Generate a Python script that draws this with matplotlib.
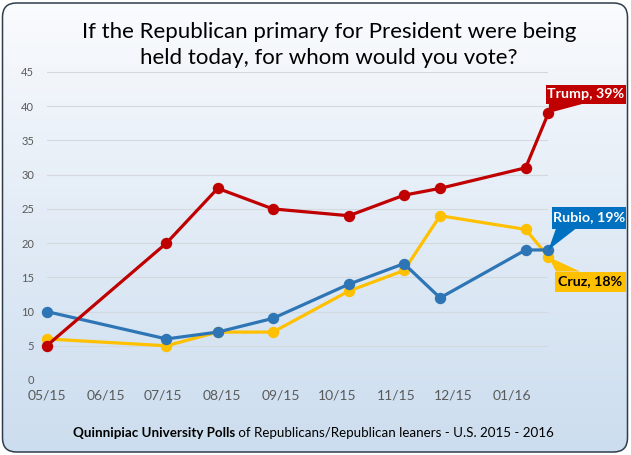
import numpy as np
import pandas as pd
import matplotlib
matplotlib.use("Agg")
import matplotlib.pyplot as plt
import matplotlib.dates as mdates
from matplotlib.patches import FancyBboxPatch, Polygon, Rectangle
from matplotlib.transforms import IdentityTransform

# ---- data ----
poll_dates = ["2015-05-28", "2015-07-30", "2015-08-26", "2015-09-24", "2015-11-03",
              "2015-12-02", "2015-12-21", "2016-02-04", "2016-02-16"]
trump = [5, 20, 28, 25, 24, 27, 28, 31, 39]
rubio = [10, 6, 7, 9, 14, 17, 12, 19, 19]
cruz = [6, 5, 7, 7, 13, 16, 24, 22, 18]
tick_dates = ["2015-05-28", "2015-06-28", "2015-07-28", "2015-08-28", "2015-09-28",
              "2015-10-28", "2015-11-28", "2015-12-28", "2016-01-28"]
tick_labels = ["05/15", "06/15", "07/15", "08/15", "09/15", "10/15", "11/15", "12/15", "01/16"]
y_ticks = [0, 5, 10, 15, 20, 25, 30, 35, 40, 45]
title = "If the Republican primary for President were being\nheld today, for whom would you vote?"
footer_bold = "Quinnipiac University Polls"
footer_rest = " of Republicans/Republican leaners - U.S. 2015 - 2016"

FONT = ["Lato", "DejaVu Sans"]
plt.rcParams["font.family"] = FONT

W, H, DPI = 631, 455, 100
fig = plt.figure(figsize=(W / DPI, H / DPI), dpi=DPI)
ID = IdentityTransform()

# ---- background gradient with rounded frame ----
bg = fig.add_axes([0, 0, 1, 1], zorder=-10)
bg.set_axis_off()
grad = np.linspace(0, 1, 256).reshape(-1, 1)
top = np.array([0.985, 0.988, 0.995])
bot = np.array([0.80, 0.867, 0.937])
img = top + (bot - top) * grad[..., None] ** 0.9
img = img.reshape(256, 1, 3)
im = bg.imshow(img, aspect="auto", extent=[0, 1, 0, 1], origin="upper")
bg.set_xlim(0, 1)
bg.set_ylim(0, 1)
frame = FancyBboxPatch((2.5, 3.0), 625.0, 449.0,
                       boxstyle="round,pad=0,rounding_size=14",
                       transform=ID, facecolor="none",
                       edgecolor="#2f3d4c", linewidth=1.1, zorder=5)
clip = FancyBboxPatch((2.5, 3.0), 625.0, 449.0,
                      boxstyle="round,pad=0,rounding_size=14",
                      transform=ID, facecolor="none", edgecolor="none")
fig.patches.append(clip)
im.set_clip_path(clip)
fig.patches.append(frame)

# ---- main axes ----
x0, x1 = 46.7, 548.4
y0, y1 = 380, 72
ax = fig.add_axes([x0 / W, (H - y0) / H, (x1 - x0) / W, (y0 - y1) / H])
ax.set_facecolor("none")
for s in ax.spines.values():
    s.set_visible(False)

d = mdates.date2num(pd.to_datetime(poll_dates))
t = mdates.date2num(pd.to_datetime(tick_dates))

lw = 2.3
ms = 7.2
ax.plot(d, cruz, color="#ffc000", lw=lw, marker="o", ms=ms, zorder=3, clip_on=False)
ax.plot(d, rubio, color="#2e75b6", lw=lw, marker="o", ms=ms, zorder=4, clip_on=False)
ax.plot(d, trump, color="#c00000", lw=lw, marker="o", ms=ms, zorder=5, clip_on=False)

ax.set_xlim(d[0], d[-1])
ax.set_ylim(0, 45)
ax.set_yticks(y_ticks)
ax.set_xticks(t)
ax.set_xticklabels(tick_labels)
ax.tick_params(axis="y", length=0, pad=9, labelsize=8, labelcolor="#595959")
ax.tick_params(axis="x", length=0, pad=7, labelsize=10, labelcolor="#595959")
ax.grid(axis="y", color="#d4d9de", lw=0.8)
ax.set_axisbelow(True)

# ---- callouts (boxes in figure pixels measured from top; tail to data point) ----
def callout(xv, yv, text, box, tail, edge, fc, tc):
    left, topy, right, boty = box
    rect = Rectangle((left, H - boty), right - left, boty - topy, transform=ID,
                     fc=fc, ec="none", zorder=20)
    fig.patches.append(rect)
    px, py = ax.transData.transform((xv, yv))
    ey = H - (boty if edge == "bottom" else topy)
    poly = Polygon([(px, py), (tail[0], ey), (tail[1], ey)], closed=True,
                   transform=ID, fc=fc, ec="none", zorder=20)
    fig.patches.append(poly)
    fig.text((left + right) / 2 / W, (H - (topy + boty) / 2) / H, text,
             ha="center", va="center", fontsize=10.3, fontweight="bold", color=tc,
             zorder=21)

callout(d[-1], trump[-1], "Trump, 39%", (546, 85, 626, 103.5), (549, 584), "bottom",
        "#c00000", "white")
callout(d[-1], rubio[-1], "Rubio, 19%", (551.5, 206.5, 626, 228.5), (556, 576), "bottom",
        "#0070c0", "white")
callout(d[-1], cruz[-1], "Cruz, 18%", (555, 271.5, 626, 291.5), (556, 580), "top",
        "#ffc000", "black")

# ---- title ----
fig.text(329 / W, (H - 45) / H, title, ha="center", va="center", fontsize=16,
         color="black", linespacing=1.33)

# ---- footer ----
fb = fig.text(73 / W, (H - 433) / H, footer_bold, ha="left", va="center",
              fontsize=9.6, fontweight="bold", color="black")
fig.canvas.draw()
ax.annotate(footer_rest, xy=(1, 0), xycoords=fb, ha="left", va="bottom",
            fontsize=9.6, color="black", annotation_clip=False)

fig.savefig("out.png", dpi=DPI)
